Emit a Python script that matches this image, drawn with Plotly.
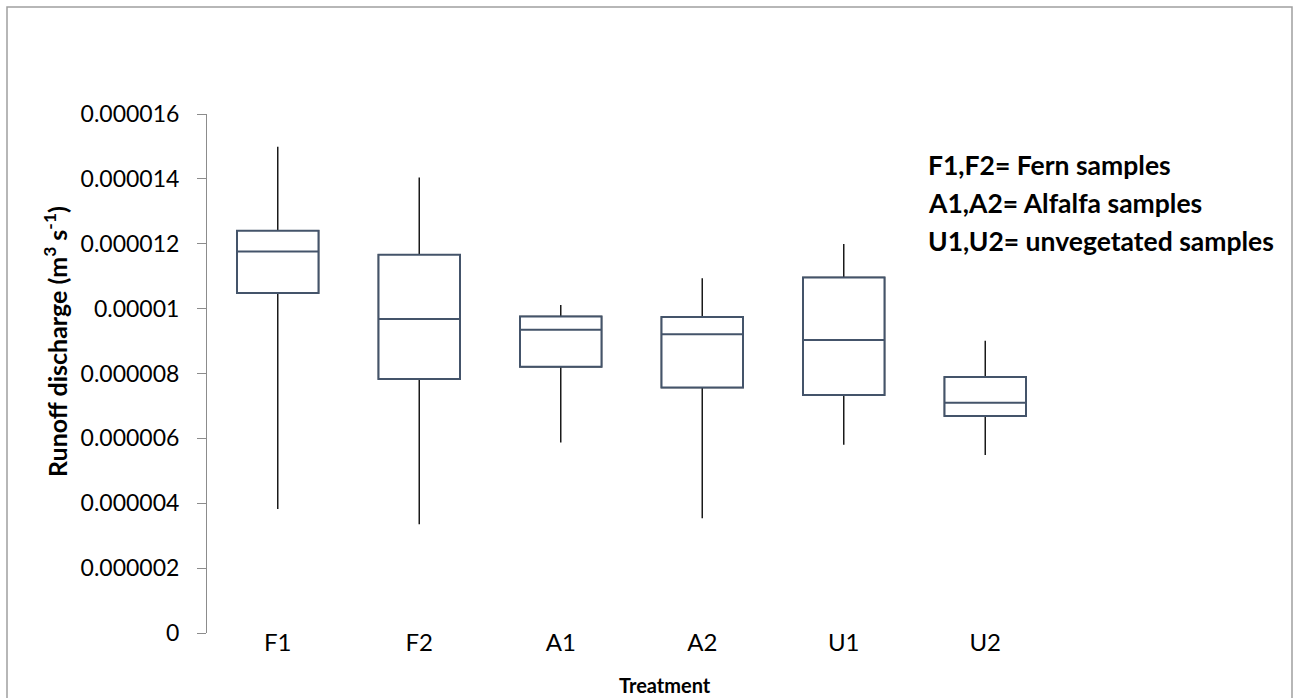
import plotly.graph_objects as go

# Treatment groups and five-number summaries (m^3 s^-1)
treatments = ["F1", "F2", "A1", "A2", "U1", "U2"]
whisker_low = [3.82e-6, 3.35e-6, 5.87e-6, 3.54e-6, 5.80e-6, 5.49e-6]
quartile_1 = [10.48e-6, 7.83e-6, 8.21e-6, 7.57e-6, 7.34e-6, 6.69e-6]
medians = [11.76e-6, 9.68e-6, 9.35e-6, 9.21e-6, 9.03e-6, 7.10e-6]
quartile_3 = [12.40e-6, 11.66e-6, 9.76e-6, 9.74e-6, 10.96e-6, 7.89e-6]
whisker_high = [14.99e-6, 14.04e-6, 10.11e-6, 10.94e-6, 11.99e-6, 9.01e-6]

y_tick_values = [0, 2e-6, 4e-6, 6e-6, 8e-6, 10e-6, 12e-6, 14e-6, 16e-6]
y_tick_labels = ["0", "0.000002", "0.000004", "0.000006", "0.000008",
                 "0.00001", "0.000012", "0.000014", "0.000016"]

key_lines = ["F1,F2= Fern samples", "A1,A2= Alfalfa samples",
             "U1,U2= unvegetated samples"]

W, H = 1293, 698
ML, MR, MT, MB = 207, 237, 114, 65
PW, PH = W - ML - MR, H - MT - MB


def px(x):
    return (x - ML) / PW


def py(y):
    return (H - MB - y) / PH


FONT = "Lato, 'Open Sans', sans-serif"
BOX_COLOR = "#44546A"
BOX_WIDTH = 0.576

fig = go.Figure()
# whiskers (thin black lines from the fences to the box)
fig.add_trace(go.Box(
    x=treatments, q1=quartile_1, median=medians, q3=quartile_3,
    lowerfence=whisker_low, upperfence=whisker_high,
    width=BOX_WIDTH, whiskerwidth=0,
    line=dict(color="#1a1a1a", width=1.5), fillcolor="white",
    boxpoints=False, showlegend=False, hoverinfo="skip",
))
# boxes (interquartile range with median bar)
fig.add_trace(go.Box(
    x=treatments, q1=quartile_1, median=medians, q3=quartile_3,
    lowerfence=quartile_1, upperfence=quartile_3,
    width=BOX_WIDTH, whiskerwidth=0,
    line=dict(color=BOX_COLOR, width=2), fillcolor="white",
    boxpoints=False, showlegend=False,
))

annotations = [
    dict(text="<b>Runoff discharge (m<sup>3</sup> s<sup>-1</sup>)</b>",
         x=px(55), y=py(342), xref="paper", yref="paper", textangle=-90,
         showarrow=False, xanchor="center", yanchor="middle",
         font=dict(family=FONT, size=25, color="black")),
    dict(text="<b>Treatment</b>", x=px(665), y=py(685),
         xref="paper", yref="paper", showarrow=False,
         xanchor="center", yanchor="middle",
         font=dict(family=FONT, size=20, color="black")),
]
for i, line in enumerate(key_lines):
    annotations.append(dict(
        text="<b>" + line + "</b>", x=px(926), y=py(165 + 38 * i),
        xref="paper", yref="paper", showarrow=False,
        xanchor="left", yanchor="middle",
        font=dict(family=FONT, size=26.5, color="black")))

fig.update_layout(
    width=W, height=H,
    margin=dict(l=ML, r=MR, t=MT, b=MB, pad=0),
    paper_bgcolor="white", plot_bgcolor="white",
    boxmode="overlay",
    font=dict(family=FONT, color="black"),
    xaxis=dict(range=[-0.5, len(treatments) - 0.5],
               showgrid=False, zeroline=False, showline=False,
               ticks="", tickfont=dict(size=24, color="black"),
               ticklabelstandoff=-7),
    yaxis=dict(range=[0, 1.6e-5], tickvals=y_tick_values,
               ticktext=y_tick_labels, showgrid=False, zeroline=False,
               showline=True, linecolor="#8c8c8c", linewidth=1,
               ticks="outside", ticklen=9, tickcolor="#8c8c8c",
               ticklabelstandoff=13,
               tickfont=dict(size=23, color="black")),
    annotations=annotations,
    shapes=[dict(type="rect", xref="paper", yref="paper",
                 x0=px(7), x1=px(1292), y0=py(720), y1=py(7),
                 line=dict(color="#a0a0a0", width=1.5), layer="below")],
)

fig.write_html("out.html")
